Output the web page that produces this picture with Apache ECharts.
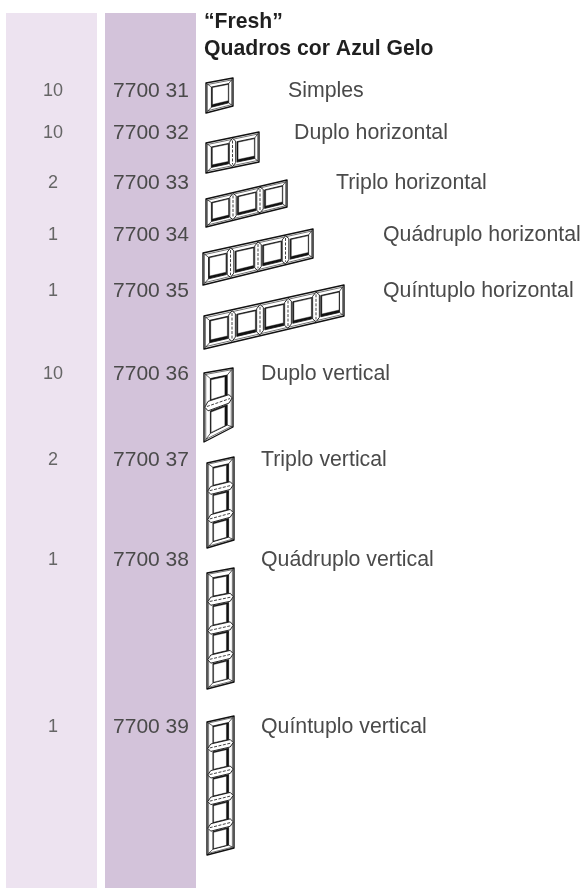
<!DOCTYPE html>
<html>
<head>
<meta charset="utf-8">
<style>
    html, body { margin: 0; padding: 0; background: #fff; }
    #chart { width: 583px; height: 888px; }
</style>
<script src="https://cdn.jsdelivr.net/npm/echarts@6/dist/echarts.min.js"></script>
</head>
<body>
<div id="chart"></div>
<script>
// table content
const titleLines = ['\u201CFresh\u201D', 'Quadros cor Azul Gelo'];
const quantities = ['10', '10', '2', '1', '1', '10', '2', '1', '1'];
const codes = ['7700 31', '7700 32', '7700 33', '7700 34', '7700 35', '7700 36', '7700 37', '7700 38', '7700 39'];
const names = ['Simples', 'Duplo horizontal', 'Triplo horizontal', 'Quádruplo horizontal', 'Quíntuplo horizontal',
    'Duplo vertical', 'Triplo vertical', 'Quádruplo vertical', 'Quíntuplo vertical'];
const moduleCounts = [1, 2, 3, 4, 5, 2, 3, 4, 5];
const orientations = ['h', 'h', 'h', 'h', 'h', 'v', 'v', 'v', 'v'];

// page layout, in page pixels (the axes below run 0-583 and 0-888)
const rowY = [91, 133.5, 183.5, 235, 291, 374, 460, 560, 727];
const nameX = [288, 294, 336, 383, 383, 261, 261, 261, 261];
const bands = [[6, 97, '#ede3f0'], [105, 196, '#d3c3da']];
const bandTop = 13;
const qtyX = 53;
const codeX = 151;
const titleX = 204;
const titleY = [22, 49];
// frame outlines: left-top, right-top, right-bottom, left-bottom
const frameCorners = [
    [[206, 83], [233, 78], [233, 106], [206, 113]],
    [[206, 143], [259, 132], [259, 162], [206, 173]],
    [[206, 199], [287, 180], [287, 207], [206, 227]],
    [[203, 253], [313, 229], [313, 258], [203, 285]],
    [[204, 316], [344, 285], [344, 316], [204, 349]],
    [[204, 373], [233, 368], [233, 427], [204, 442]],
    [[207, 463], [234, 457], [234, 540], [207, 548]],
    [[207, 573], [234, 568], [234, 682], [207, 689]],
    [[207, 722], [234, 716], [234, 848], [207, 855]]
];

const FONT = '"Liberation Sans", Arial, sans-serif';
const INK = '#111';

function renderBand(params, api) {
    const i = params.dataIndex;
    const a = api.coord([bands[i][0], bandTop]);
    const b = api.coord([bands[i][1], 888]);
    return {
        type: 'rect',
        shape: { x: a[0], y: a[1], width: b[0] - a[0], height: b[1] - a[1] },
        style: { fill: bands[i][2] }
    };
}

function renderFrame(params, api) {
    const i = params.dataIndex;
    const c = frameCorners[i];
    const n = moduleCounts[i];
    const horizontal = orientations[i] === 'h';

    // a = along the row of modules, b = across it
    function pt(a, b) {
        const u = horizontal ? a : b;
        const v = horizontal ? b : a;
        const x = (1 - u) * (1 - v) * c[0][0] + u * (1 - v) * c[1][0] + u * v * c[2][0] + (1 - u) * v * c[3][0];
        const y = (1 - u) * (1 - v) * c[0][1] + u * (1 - v) * c[1][1] + u * v * c[2][1] + (1 - u) * v * c[3][1];
        return api.coord([x, y]);
    }
    function poly(points, fill, lineWidth) {
        return {
            type: 'polygon',
            shape: { points: points },
            style: { fill: fill, stroke: INK, lineWidth: lineWidth, lineJoin: 'round' }
        };
    }
    function line(p1, p2, lineWidth, dash) {
        return {
            type: 'line',
            shape: { x1: p1[0], y1: p1[1], x2: p2[0], y2: p2[1] },
            style: { stroke: INK, lineWidth: lineWidth, lineDash: dash || null }
        };
    }

    const children = [];
    children.push(poly([pt(0, 0), pt(1, 0), pt(1, 1), pt(0, 1)], '#fff', 1.4));

    // thin rim just inside the outline
    const insetA = 0.05 / n;
    children.push(poly([pt(insetA, 0.06), pt(1 - insetA, 0.06), pt(1 - insetA, 0.94), pt(insetA, 0.94)], '#fff', 0.6));

    const b0 = horizontal ? 0.17 : 0.22;
    const b1 = horizontal ? 0.85 : 0.8;
    for (let m = 0; m < n; m++) {
        const a0 = (m + (m === 0 ? 0.2 : 0.17)) / n;
        const a1 = (m + (m === n - 1 ? 0.84 : 0.85)) / n;
        // bevel lines from the outer corners to the opening
        if (m === 0) {
            children.push(line(pt(0, 0), pt(a0, b0), 0.7));
            children.push(line(pt(0, 1), pt(a0, b1), 0.7));
        }
        if (m === n - 1) {
            children.push(line(pt(1, 0), pt(a1, b0), 0.7));
            children.push(line(pt(1, 1), pt(a1, b1), 0.7));
        }
        // opening: dark rim with a white centre pushed up, so left and bottom read heavier
        children.push(poly([pt(a0, b0), pt(a1, b0), pt(a1, b1), pt(a0, b1)], INK, 0.8));
        const rim = 0.04 / n;
        children.push(poly([pt(a0 + rim, b0 + 0.025), pt(a1 - rim * 0.4, b0 + 0.025), pt(a1 - rim * 0.4, b1 - 0.08), pt(a0 + rim, b1 - 0.08)], '#fff', 0.4));
    }

    // joints between modules
    const w = (horizontal ? 0.12 : 0.14) / n;
    for (let m = 1; m < n; m++) {
        const a = m / n;
        children.push(poly([
            pt(a, 0.03), pt(a + w, 0.14), pt(a + w, 0.86), pt(a, 0.97), pt(a - w, 0.86), pt(a - w, 0.14)
        ], '#fff', 0.9));
        children.push(line(pt(a, 0.1), pt(a, 0.9), 0.8, [3, 1.5]));
    }
    return { type: 'group', children: children };
}

// all text rows built from the small arrays above
const textData = [];
titleLines.forEach((t, i) => textData.push({
    value: [titleX, titleY[i]], text: t, color: '#1f1f1f', align: 'left', font: 'bold 21.2px ' + FONT
}));
rowY.forEach((y, i) => {
    textData.push({ value: [qtyX, y], text: quantities[i], color: '#666', align: 'center', font: '18px ' + FONT });
    textData.push({ value: [codeX, y], text: codes[i], color: '#4a4a4a', align: 'center', font: '21px ' + FONT });
    textData.push({ value: [nameX[i], y], text: names[i], color: '#4a4a4a', align: 'left', font: '21.3px ' + FONT });
});

function renderText(params, api) {
    const d = textData[params.dataIndex];
    const p = api.coord(d.value);
    return {
        type: 'text',
        style: {
            x: p[0], y: p[1], text: d.text,
            fill: d.color,
            font: d.font,
            align: d.align,
            verticalAlign: 'middle'
        }
    };
}

const chart = echarts.init(document.getElementById('chart'), null, { renderer: 'canvas' });
chart.setOption({
    animation: false,
    backgroundColor: '#fff',
    grid: { left: 0, right: 0, top: 0, bottom: 0 },
    xAxis: { type: 'value', min: 0, max: 583, show: false },
    yAxis: { type: 'value', min: 0, max: 888, inverse: true, show: false },
    series: [
        { type: 'custom', silent: true, clip: false, renderItem: renderBand, data: bands.map((b, i) => [i]) },
        { type: 'custom', silent: true, clip: false, renderItem: renderFrame, data: codes.map((c, i) => [i]) },
        { type: 'custom', silent: true, clip: false, renderItem: renderText, data: textData.map(d => d.value) }
    ]
});
</script>
</body>
</html>
